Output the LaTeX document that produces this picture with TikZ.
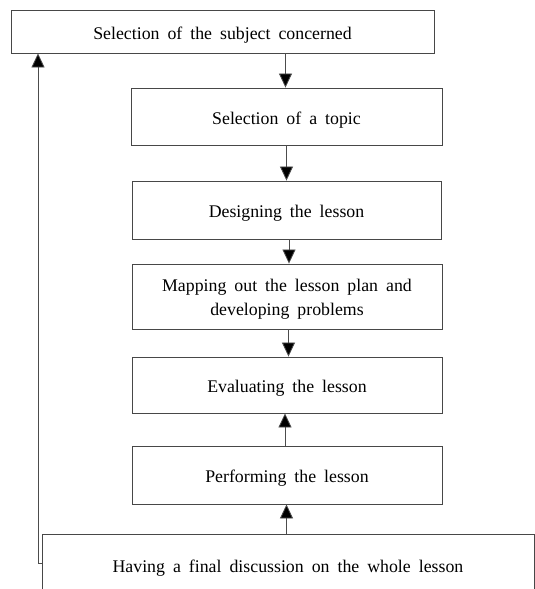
\documentclass[tikz,border=0pt]{standalone}
\usepackage{fontspec}
\setmainfont{Liberation Serif}
\usetikzlibrary{arrows.meta}
\protected\def\myboxfont{\fontsize{17.8pt}{24pt}\selectfont\spaceskip=0.45em plus 0.1em\relax}
\begin{document}
\begin{tikzpicture}[x=1pt,y=-1pt,
  box/.style={draw=black!72, line width=0.9pt, inner sep=0pt, align=center,
    font=\myboxfont,
    execute at begin node=\rule{0pt}{19pt},
    execute at end node=\rule[-4pt]{0pt}{4pt}},
  txt/.style={inner sep=0pt, align=center, font=\myboxfont},
  arr/.style={draw=black!70, line width=0.8pt, -{Triangle[length=14pt,width=13pt,fill=black]}}]
\useasboundingbox (0,0) rectangle (535,589);
\clip (0,0) rectangle (535,589);
\node[box, minimum width=423pt, minimum height=43pt] (b1) at (222.5,31.5) {Selection of the subject concerned};
\node[box, minimum width=311pt, minimum height=57pt] (b2) at (286.5,116.5) {Selection of a topic};
\node[box, minimum width=309pt, minimum height=58pt] (b3) at (286.5,210) {Designing the lesson};
\node[box, minimum width=310pt, minimum height=65pt] (b4) at (287,296.5) {};
\node[txt] (b4t) at ([yshift=-3pt]b4.center) {Mapping out the lesson plan and\\developing problems};
\node[box, minimum width=310pt, minimum height=56pt] (b5) at (287,385) {Evaluating the lesson};
\node[box, minimum width=310pt, minimum height=58pt] (b6) at (287,475) {Performing the lesson};
\node[box, minimum width=492pt, minimum height=62pt] (b7) at (288,565) {Having a final discussion on the whole lesson};
\coordinate (fb) at (38,563);
\draw[arr] ([xshift=-1pt]b2.north |- b1.south) -- ([xshift=-1pt]b2.north);
\draw[arr] (b3.north |- b2.south) -- (b3.north);
\draw[arr] ([xshift=2.5pt]b3.south) -- ([xshift=2.5pt]b3.south |- b4.north);
\draw[arr] ([xshift=1.5pt]b4.south) -- ([xshift=1.5pt]b4.south |- b5.north);
\draw[arr] ([xshift=-2pt]b6.north) -- ([xshift=-2pt]b6.north |- b5.south);
\draw[arr] ([xshift=-1.5pt]b7.north) -- ([xshift=-1.5pt]b7.north |- b6.south);
\draw[arr] (b7.west |- fb) -- (fb) -- (fb |- b1.south);
\end{tikzpicture}
\end{document}
